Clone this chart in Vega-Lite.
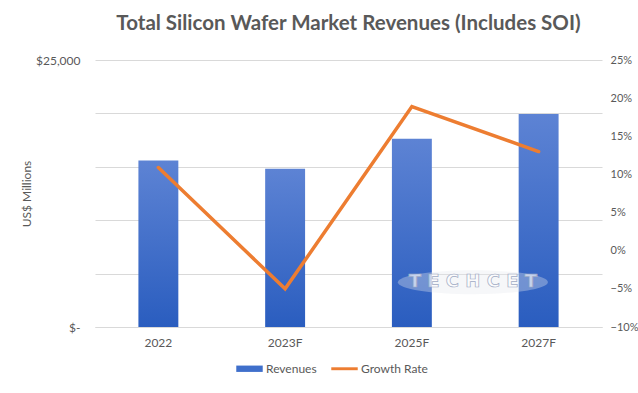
{
  "$schema": "https://vega.github.io/schema/vega-lite/v6.json",
  "width": 507,
  "height": 267,
  "autosize": "none",
  "padding": {"left": 95, "top": 60, "right": 36, "bottom": 66},
  "background": "white",
  "config": {
    "font": "Lato",
    "view": {"stroke": null},
    "axis": {"labelColor": "#595959", "titleColor": "#595959", "labelFont": "Lato", "titleFont": "Lato", "labelFontSize": 12, "titleFontSize": 12, "titleFontWeight": "normal"},
    "legend": {"labelColor": "#595959", "labelFont": "Lato", "labelFontSize": 12}
  },
  "title": {
    "text": "Total Silicon Wafer Market Revenues (Includes SOI)",
    "fontSize": 20.5,
    "fontWeight": "bold",
    "color": "#595959",
    "font": "Lato",
    "anchor": "middle",
    "offset": 20
  },
  "data": {
    "values": [
      {"year": "2022", "revenue": 15590, "growth": 0.109},
      {"year": "2023F", "revenue": 14810, "growth": -0.050},
      {"year": "2025F", "revenue": 17620, "growth": 0.189},
      {"year": "2027F", "revenue": 19950, "growth": 0.130}
    ]
  },
  "encoding": {
    "x": {
      "field": "year",
      "type": "nominal",
      "sort": null,
      "scale": {"paddingInner": 0.685, "paddingOuter": 0.3425},
      "axis": {"title": null, "labelAngle": 0, "ticks": false, "domain": true, "domainColor": "#D9D9D9", "labelPadding": 10, "grid": false}
    }
  },
  "layer": [
    {
      "mark": {
        "type": "bar",
        "color": {
          "gradient": "linear",
          "x1": 0, "y1": 0, "x2": 0, "y2": 1,
          "stops": [
            {"offset": 0, "color": "#5D83D4"},
            {"offset": 1, "color": "#2A5DBF"}
          ]
        }
      },
      "encoding": {
        "y": {
          "field": "revenue",
          "type": "quantitative",
          "scale": {"domain": [0, 25000], "nice": false},
          "axis": {
            "title": "US$ Millions",
            "titlePadding": 2,
            "values": [0, 5000, 10000, 15000, 20000, 25000],
            "labelExpr": "datum.value == 0 ? '$-' : (datum.value == 25000 ? '$25,000' : '')",
            "ticks": false,
            "domain": false,
            "grid": true,
            "gridColor": "#D9D9D9",
            "labelPadding": 15
          }
        }
      }
    },
    {
      "data": {"values": [{"logo": "T E C H C E T"}]},
      "mark": {"type": "point", "shape": "M-1,0A1,0.16 0 1,0 1,0A1,0.16 0 1,0 -1,0Z", "size": 22500, "filled": true, "fill": "#E4E7EE", "opacity": 0.35, "strokeWidth": 0, "xOffset": 61},
      "encoding": {
        "x": {"datum": "2025F"},
        "y": {"datum": 4200, "scale": {"domain": [0, 25000], "nice": false}, "axis": null}
      }
    },
    {
      "data": {"values": [{"logo": "T E C H C E T"}]},
      "mark": {"type": "text", "font": "DejaVu Sans", "fontWeight": "bold", "fontSize": 18, "fill": "#FFFFFF", "fillOpacity": 0.6, "stroke": "#9FAAC4", "strokeWidth": 0.7, "baseline": "middle", "align": "center", "xOffset": 61},
      "encoding": {
        "x": {"datum": "2025F"},
        "y": {"datum": 4200, "scale": {"domain": [0, 25000], "nice": false}, "axis": null},
        "text": {"field": "logo"}
      }
    },
    {
      "mark": {"type": "line", "strokeWidth": 3.5, "strokeCap": "round", "strokeJoin": "miter"},
      "encoding": {
        "y": {
          "field": "growth",
          "type": "quantitative",
          "scale": {"domain": [-0.10, 0.25], "nice": false},
          "axis": {
            "orient": "right",
            "title": null,
            "values": [-0.10, -0.05, 0, 0.05, 0.10, 0.15, 0.20, 0.25],
            "format": ".0%",
            "ticks": false,
            "domain": false,
            "grid": false,
            "labelPadding": 8,
            "labelFontSize": 11
          }
        },
        "color": {
          "datum": "Growth Rate",
          "scale": {"domain": ["Revenues", "Growth Rate"], "range": ["#3F6FCB", "#ED7D31"]},
          "legend": {
            "title": null,
            "orient": "none",
            "legendX": 141,
            "legendY": 295,
            "direction": "horizontal",
            "symbolSize": 700,
            "columnPadding": 14,
            "labelOffset": 3,
            "encode": {
              "symbols": {
                "update": {
                  "shape": {"signal": "datum.value === 'Revenues' ? 'M-1,-0.24H1V0.24H-1Z' : 'M-1,-0.11H1V0.11H-1Z'"},
                  "fill": {"signal": "datum.value === 'Revenues' ? '#3F6FCB' : '#ED7D31'"},
                  "stroke": {"value": "transparent"},
                  "strokeWidth": {"value": 0},
                  "opacity": {"value": 1}
                }
              }
            }
          }
        }
      }
    }
  ],
  "resolve": {"scale": {"y": "independent"}}
}
